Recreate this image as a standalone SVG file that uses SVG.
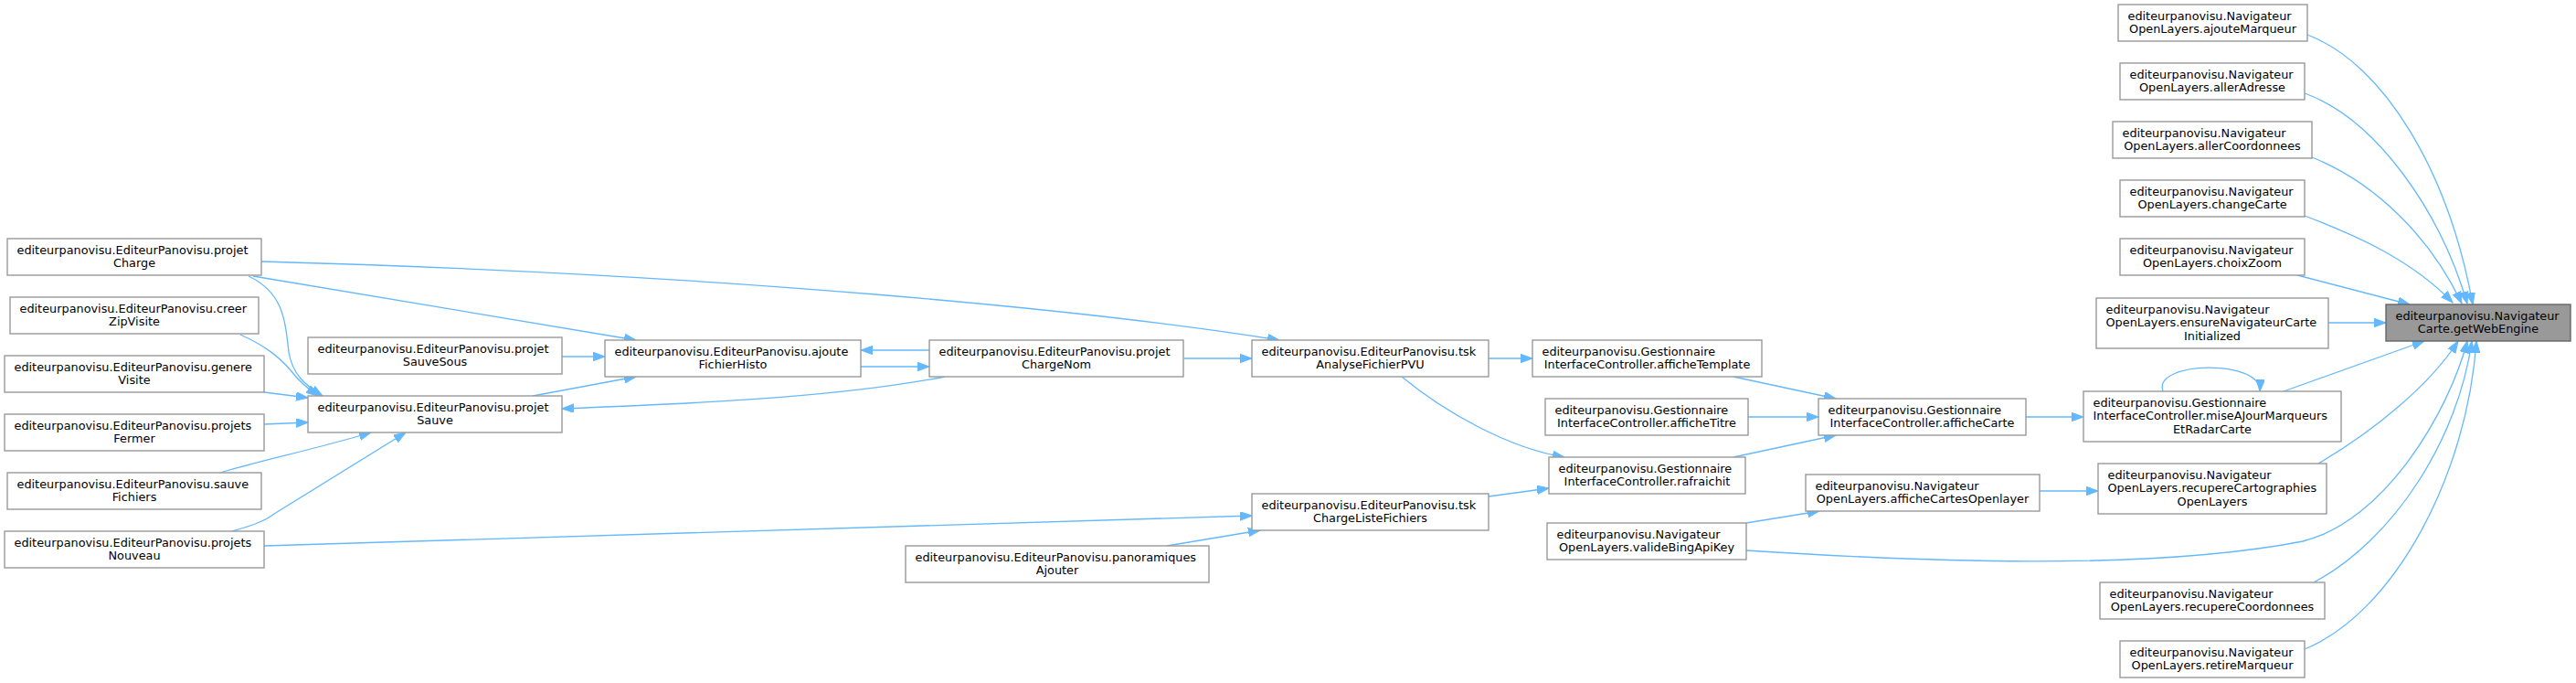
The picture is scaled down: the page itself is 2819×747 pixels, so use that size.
<svg xmlns="http://www.w3.org/2000/svg" width="2819" height="747" viewBox="0 0 2819 747">
<style>
rect{fill:#ffffff;stroke:#999999;stroke-width:1.4}
#n_getWebEngine rect{fill:#999999;stroke:#666666}
text{font-family:"DejaVu Sans","Liberation Sans",sans-serif;font-size:12.85px;fill:#000000}
.c{text-anchor:middle}
.e{fill:none;stroke:#63b8ff;stroke-width:1.3;marker-end:url(#a)}
</style>
<defs>
<marker id="a" markerUnits="userSpaceOnUse" markerWidth="14" markerHeight="10" refX="13" refY="4.75" orient="auto" viewBox="0 0 14 10">
<path d="M0,0 L13,4.75 L0,9.5 z" fill="#63b8ff" stroke="#63b8ff" stroke-width="1"/>
</marker>
</defs>
<rect x="0" y="0" width="2819" height="747" style="fill:#ffffff;stroke:none"/>
<g id="edges">
<path class="e" d="M2525,38 C2610,70 2680,190 2706,333"/>
<path class="e" d="M2522,102 C2600,130 2670,230 2700,332"/>
<path class="e" d="M2530,172 C2600,200 2660,260 2694,332"/>
<path class="e" d="M2522,236 C2580,258 2640,285 2684,331"/>
<path class="e" d="M2514,301 L2637,333"/>
<path class="e" d="M2548,353 L2611,353"/>
<path class="e" d="M2499,428 L2653,373"/>
<path class="e" d="M2367,428 C2355,395 2475,392 2473,428"/>
<path class="e" d="M2537,507 C2600,470 2660,420 2690,373"/>
<path class="e" d="M1911,602 C2100,614 2350,625 2520,592 C2610,570 2680,450 2700,373"/>
<path class="e" d="M2532,637 C2620,590 2690,480 2705,373"/>
<path class="e" d="M2522,710 C2620,670 2700,520 2710,373"/>
<path class="e" d="M2217,456 L2280,456"/>
<path class="e" d="M2232,537 L2296,537"/>
<path class="e" d="M1897,412 L2009,436"/>
<path class="e" d="M1913,456 L1990,456"/>
<path class="e" d="M1897,500 L2009,476"/>
<path class="e" d="M1911,572 L1991,559"/>
<path class="e" d="M1629,392 L1677,392"/>
<path class="e" d="M1534,412 C1580,450 1650,490 1712,500"/>
<path class="e" d="M1629,543 L1695,534"/>
<path class="e" d="M1296,392 L1370,392"/>
<path class="e" d="M286,286 C800,300 1200,340 1400,372"/>
<path class="e" d="M942,401 L1017,401"/>
<path class="e" d="M1017,383 L942,383"/>
<path class="e" d="M1034,412 C930,432 800,440 615,447"/>
<path class="e" d="M615,390 L662,390"/>
<path class="e" d="M583,433 L696,412"/>
<path class="e" d="M277,302 L696,372"/>
<path class="e" d="M272,302 C310,320 312,350 316,385 C320,410 335,422 353,433"/>
<path class="e" d="M263,366 C290,378 305,390 318,405 C328,418 338,426 348,433"/>
<path class="e" d="M289,429 L337,435"/>
<path class="e" d="M289,464 L337,462"/>
<path class="e" d="M241,517 C280,505 350,490 406,473"/>
<path class="e" d="M254,581 C275,575 290,570 300,562 L444,473"/>
<path class="e" d="M289,597 L1370,564"/>
<path class="e" d="M1277,597 L1379,580"/>
</g>
<g id="n_projetCharge"><rect x="8" y="261" width="278" height="40"/><text x="18.5" y="277.5">editeurpanovisu.EditeurPanovisu.projet</text><text class="c" x="147" y="292.1">Charge</text></g>
<g id="n_creerZipVisite"><rect x="11" y="325" width="272" height="40"/><text x="21.5" y="341.5">editeurpanovisu.EditeurPanovisu.creer</text><text class="c" x="147" y="356.1">ZipVisite</text></g>
<g id="n_genereVisite"><rect x="5" y="389" width="284" height="40"/><text x="15.5" y="405.5">editeurpanovisu.EditeurPanovisu.genere</text><text class="c" x="147" y="420.1">Visite</text></g>
<g id="n_projetsFermer"><rect x="5" y="453" width="284" height="40"/><text x="15.5" y="469.5">editeurpanovisu.EditeurPanovisu.projets</text><text class="c" x="147" y="484.1">Fermer</text></g>
<g id="n_sauveFichiers"><rect x="8" y="517" width="278" height="40"/><text x="18.5" y="533.5">editeurpanovisu.EditeurPanovisu.sauve</text><text class="c" x="147" y="548.1">Fichiers</text></g>
<g id="n_projetsNouveau"><rect x="5" y="581" width="284" height="40"/><text x="15.5" y="597.5">editeurpanovisu.EditeurPanovisu.projets</text><text class="c" x="147" y="612.1">Nouveau</text></g>
<g id="n_projetSauveSous"><rect x="337" y="369" width="278" height="40"/><text x="347.5" y="385.5">editeurpanovisu.EditeurPanovisu.projet</text><text class="c" x="476" y="400.1">SauveSous</text></g>
<g id="n_projetSauve"><rect x="337" y="433" width="278" height="40"/><text x="347.5" y="449.5">editeurpanovisu.EditeurPanovisu.projet</text><text class="c" x="476" y="464.1">Sauve</text></g>
<g id="n_ajouteFichierHisto"><rect x="662" y="372" width="280" height="40"/><text x="672.5" y="388.5">editeurpanovisu.EditeurPanovisu.ajoute</text><text class="c" x="802" y="403.1">FichierHisto</text></g>
<g id="n_projetChargeNom"><rect x="1017" y="372" width="278" height="40"/><text x="1027.5" y="388.5">editeurpanovisu.EditeurPanovisu.projet</text><text class="c" x="1156" y="403.1">ChargeNom</text></g>
<g id="n_panoramiquesAjouter"><rect x="991" y="597" width="332" height="40"/><text x="1001.5" y="613.5">editeurpanovisu.EditeurPanovisu.panoramiques</text><text class="c" x="1157" y="628.1">Ajouter</text></g>
<g id="n_tskAnalyseFichierPVU"><rect x="1370" y="372" width="259" height="40"/><text x="1380.5" y="388.5">editeurpanovisu.EditeurPanovisu.tsk</text><text class="c" x="1499.5" y="403.1">AnalyseFichierPVU</text></g>
<g id="n_tskChargeListeFichiers"><rect x="1370" y="540" width="259" height="40"/><text x="1380.5" y="556.5">editeurpanovisu.EditeurPanovisu.tsk</text><text class="c" x="1499.5" y="571.1">ChargeListeFichiers</text></g>
<g id="n_afficheTemplate"><rect x="1677" y="372" width="251" height="40"/><text x="1687.5" y="388.5">editeurpanovisu.Gestionnaire</text><text class="c" x="1802.5" y="403.1">InterfaceController.afficheTemplate</text></g>
<g id="n_afficheTitre"><rect x="1691" y="436" width="222" height="40"/><text x="1701.5" y="452.5">editeurpanovisu.Gestionnaire</text><text class="c" x="1802" y="467.1">InterfaceController.afficheTitre</text></g>
<g id="n_rafraichit"><rect x="1695" y="500" width="215" height="40"/><text x="1705.5" y="516.5">editeurpanovisu.Gestionnaire</text><text class="c" x="1802.5" y="531.1">InterfaceController.rafraichit</text></g>
<g id="n_valideBingApiKey"><rect x="1693" y="572" width="218" height="40"/><text x="1703.5" y="588.5">editeurpanovisu.Navigateur</text><text class="c" x="1802" y="603.1">OpenLayers.valideBingApiKey</text></g>
<g id="n_afficheCarte"><rect x="1990" y="436" width="227" height="40"/><text x="2000.5" y="452.5">editeurpanovisu.Gestionnaire</text><text class="c" x="2103.5" y="467.1">InterfaceController.afficheCarte</text></g>
<g id="n_afficheCartesOpenlayer"><rect x="1976" y="519" width="256" height="40"/><text x="1986.5" y="535.5">editeurpanovisu.Navigateur</text><text class="c" x="2104" y="550.1">OpenLayers.afficheCartesOpenlayer</text></g>
<g id="n_ajouteMarqueur"><rect x="2318" y="5" width="207" height="40"/><text x="2328.5" y="21.5">editeurpanovisu.Navigateur</text><text class="c" x="2421.5" y="36.1">OpenLayers.ajouteMarqueur</text></g>
<g id="n_allerAdresse"><rect x="2320" y="69" width="202" height="40"/><text x="2330.5" y="85.5">editeurpanovisu.Navigateur</text><text class="c" x="2421" y="100.1">OpenLayers.allerAdresse</text></g>
<g id="n_allerCoordonnees"><rect x="2312" y="133" width="218" height="40"/><text x="2322.5" y="149.5">editeurpanovisu.Navigateur</text><text class="c" x="2421" y="164.1">OpenLayers.allerCoordonnees</text></g>
<g id="n_changeCarte"><rect x="2320" y="197" width="202" height="40"/><text x="2330.5" y="213.5">editeurpanovisu.Navigateur</text><text class="c" x="2421" y="228.1">OpenLayers.changeCarte</text></g>
<g id="n_choixZoom"><rect x="2320" y="261" width="202" height="40"/><text x="2330.5" y="277.5">editeurpanovisu.Navigateur</text><text class="c" x="2421" y="292.1">OpenLayers.choixZoom</text></g>
<g id="n_ensureNavigateurCarteInitialized"><rect x="2294" y="326" width="254" height="55"/><text x="2304.5" y="342.5">editeurpanovisu.Navigateur</text><text x="2304.5" y="357.1">OpenLayers.ensureNavigateurCarte</text><text class="c" x="2421" y="371.7">Initialized</text></g>
<g id="n_miseAJourMarqueursEtRadarCarte"><rect x="2280" y="428" width="282" height="55"/><text x="2290.5" y="444.5">editeurpanovisu.Gestionnaire</text><text x="2290.5" y="459.1">InterfaceController.miseAJourMarqueurs</text><text class="c" x="2421" y="473.7">EtRadarCarte</text></g>
<g id="n_recupereCartographiesOpenLayers"><rect x="2296" y="507" width="250" height="55"/><text x="2306.5" y="523.5">editeurpanovisu.Navigateur</text><text x="2306.5" y="538.1">OpenLayers.recupereCartographies</text><text class="c" x="2421" y="552.7">OpenLayers</text></g>
<g id="n_recupereCoordonnees"><rect x="2298" y="637" width="246" height="40"/><text x="2308.5" y="653.5">editeurpanovisu.Navigateur</text><text class="c" x="2421" y="668.1">OpenLayers.recupereCoordonnees</text></g>
<g id="n_retireMarqueur"><rect x="2320" y="701" width="202" height="40"/><text x="2330.5" y="717.5">editeurpanovisu.Navigateur</text><text class="c" x="2421" y="732.1">OpenLayers.retireMarqueur</text></g>
<g id="n_getWebEngine"><rect x="2611" y="333" width="202" height="40"/><text x="2621.5" y="349.5">editeurpanovisu.Navigateur</text><text class="c" x="2712" y="364.1">Carte.getWebEngine</text></g>
</svg>
